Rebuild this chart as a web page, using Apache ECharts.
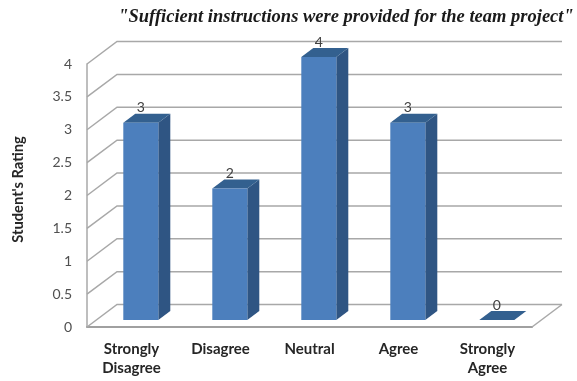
<!DOCTYPE html>
<html>
<head>
<meta charset="utf-8">
<style>html,body{margin:0;padding:0;background:#fff}#c{width:577px;height:381px}</style>
<script src="https://cdn.jsdelivr.net/npm/echarts@6/dist/echarts.min.js"></script>
</head>
<body>
<div id="c"></div>
<script>
// Survey responses
const categories = ['Strongly\nDisagree', 'Disagree', 'Neutral', 'Agree', 'Strongly\nAgree'];
const ratings = [3, 2, 4, 3, 0];
const valueTicks = [0, 0.5, 1, 1.5, 2, 2.5, 3, 3.5, 4];
const chartTitle = '"Sufficient instructions were provided for the team project"';
const valueAxisName = "Student's Rating";

// Oblique projection: how far the back wall and each bar sit behind the front plane
const WALL_DX = 30, WALL_DY = -22.5;
const BAR_DX = 9.3, BAR_DY = -7;
const BAR_WIDTH = 35, BAR_DEPTH_X = 12, BAR_DEPTH_Y = -9;
const GRID_COLOR = '#a8a8a8';

function poly(points, fill) {
  return { type: 'polygon', shape: { points }, style: { fill, stroke: null } };
}

function renderWallLine(params, api) {
  const box = params.coordSys;
  const y = api.coord([0, api.value(1)])[1];
  const x0 = box.x, x1 = box.x + box.width;
  const children = [{
    type: 'polyline',
    shape: { points: [[x0, y], [x0 + WALL_DX, y + WALL_DY], [x1 + WALL_DX, y + WALL_DY]] },
    style: { fill: null, stroke: GRID_COLOR, lineWidth: 1.5 }
  }];
  // Right-hand edge of the floor
  if (api.value(1) === 0) {
    children.push({
      type: 'line',
      shape: { x1: x1, y1: y, x2: x1 + WALL_DX, y2: y + WALL_DY },
      style: { stroke: GRID_COLOR, lineWidth: 1.5 }
    });
  }
  return { type: 'group', children };
}

function renderBar(params, api) {
  const val = api.value(1);
  const base = api.coord([api.value(0), 0]);
  const top = api.coord([api.value(0), val]);
  const l = base[0] + BAR_DX - BAR_WIDTH / 2;
  const r = l + BAR_WIDTH;
  const b = base[1] + BAR_DY;
  const t = top[1] + BAR_DY;
  const dx = BAR_DEPTH_X, dy = BAR_DEPTH_Y;
  const children = [
    poly([[r, t], [r + dx, t + dy], [r + dx, b + dy], [r, b]], '#2f5583'),
    poly([[l, t], [l + dx, t + dy], [r + dx, t + dy], [r, t]], '#33608f')
  ];
  if (val > 0) {
    children.push({
      type: 'rect',
      shape: { x: l, y: t, width: BAR_WIDTH, height: b - t },
      style: { fill: '#4c7fbd' }
    });
  }
  children.push({
    type: 'text',
    style: {
      text: String(val),
      x: (l + r) / 2,
      y: t - 15,
      align: 'center',
      verticalAlign: 'middle',
      font: '14px Lato, sans-serif',
      fill: '#404040'
    }
  });
  return { type: 'group', children };
}

const chart = echarts.init(document.getElementById('c'), null, { renderer: 'canvas' });
chart.setOption({
  animation: false,
  backgroundColor: '#fff',
  title: {
    text: chartTitle,
    left: 341,
    top: 3,
    textAlign: 'center',
    textStyle: {
      fontFamily: '"Liberation Serif", serif',
      fontStyle: 'italic',
      fontWeight: 'bold',
      fontSize: 18.5,
      color: '#1a1a1a'
    }
  },
  grid: { left: 87, right: 45, top: 64, bottom: 54, containLabel: false },
  xAxis: {
    type: 'category',
    data: categories,
    axisTick: { show: false },
    axisLine: { lineStyle: { color: '#a0a0a0', width: 2 } },
    axisLabel: {
      interval: 0,
      margin: 13,
      lineHeight: 19,
      fontFamily: 'Lato, sans-serif',
      fontWeight: 'bold',
      fontSize: 15,
      color: '#262626'
    }
  },
  yAxis: {
    type: 'value',
    min: 0,
    max: 4,
    interval: 0.5,
    name: valueAxisName,
    nameLocation: 'middle',
    nameGap: 61,
    nameTextStyle: {
      fontFamily: 'Lato, sans-serif',
      fontWeight: 'bold',
      fontSize: 14.7,
      color: '#262626',
      padding: [0, 0, 0, 12]
    },
    axisLine: { show: true, lineStyle: { color: GRID_COLOR, width: 1.5 } },
    axisTick: { show: false },
    splitLine: { show: false },
    axisLabel: {
      margin: 15,
      fontFamily: 'Lato, sans-serif',
      fontSize: 14,
      color: '#505050'
    }
  },
  series: [
    {
      type: 'custom',
      silent: true,
      clip: false,
      z: 1,
      renderItem: renderWallLine,
      encode: { x: 0, y: 1 },
      data: valueTicks.map(t => [0, t])
    },
    {
      type: 'custom',
      clip: false,
      z: 3,
      renderItem: renderBar,
      encode: { x: 0, y: 1 },
      data: ratings.map((v, i) => [i, v])
    }
  ]
});
</script>
</body>
</html>
